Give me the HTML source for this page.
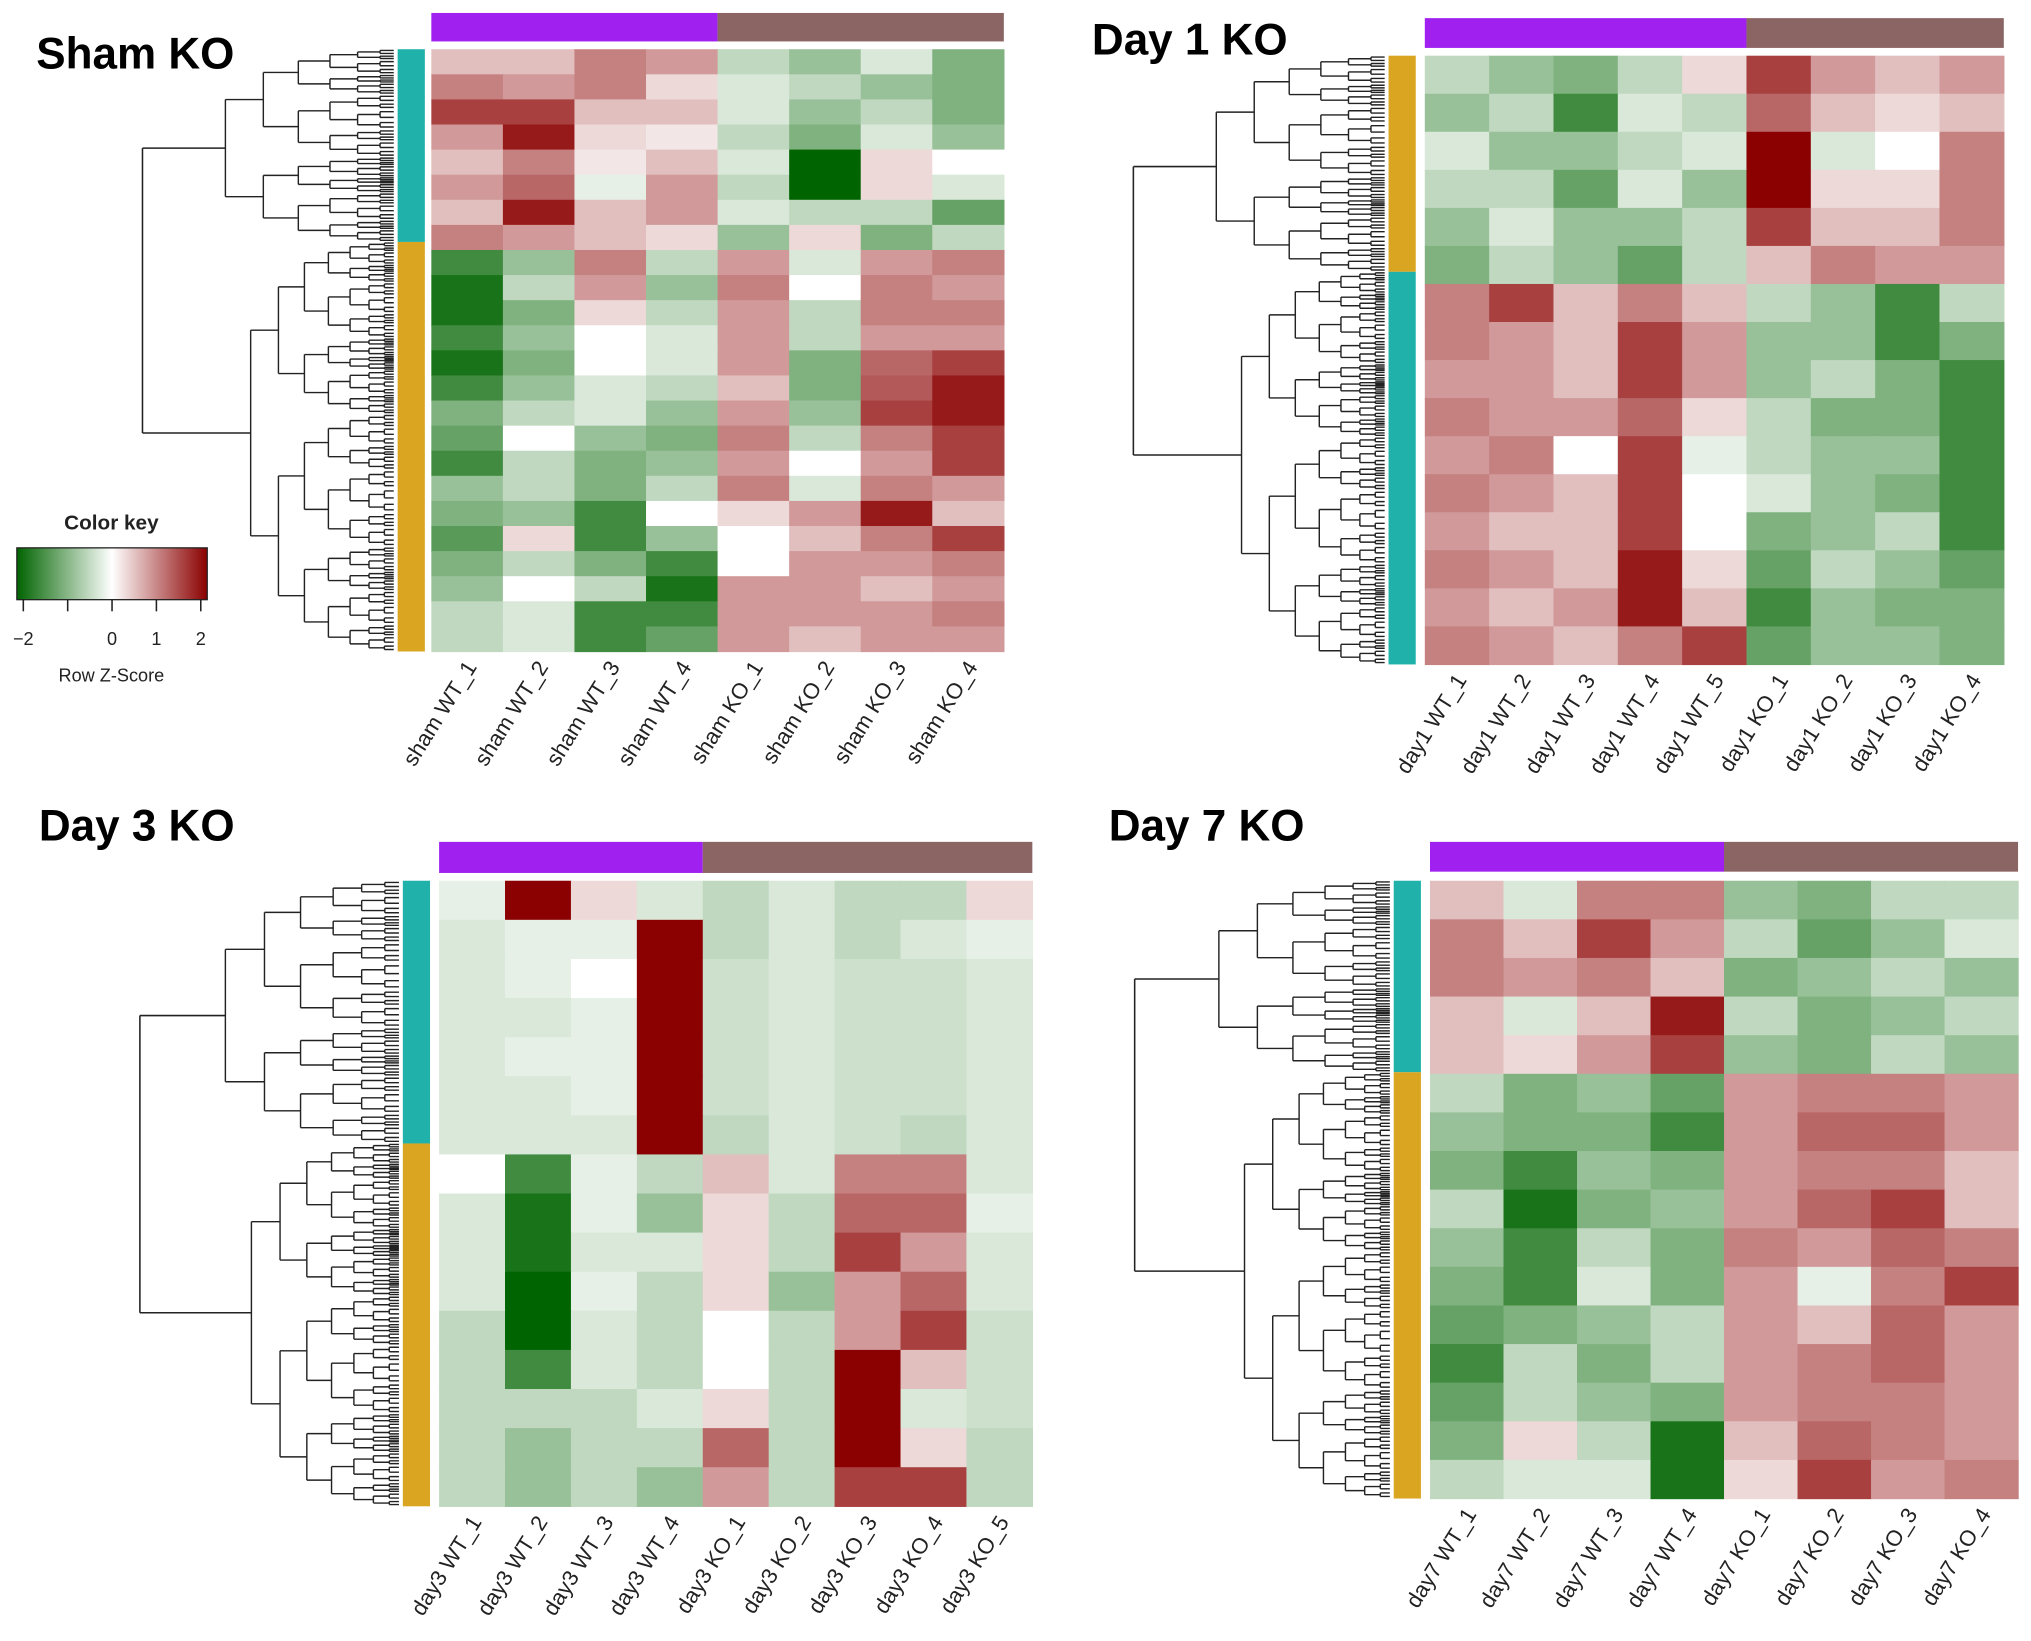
<!DOCTYPE html>
<html><head><meta charset="utf-8"><style>
html,body{margin:0;padding:0;background:#fff;}
svg{display:block;font-family:"Liberation Sans",Arial,sans-serif;}
</style></head><body>
<svg id="fig" width="2031" height="1641" viewBox="0 0 1568 1267" preserveAspectRatio="none" xmlns="http://www.w3.org/2000/svg">
<defs><linearGradient id="kg" x1="0" x2="1" y1="0" y2="0">
<stop offset="0" stop-color="#006400"/><stop offset="0.5" stop-color="#ffffff"/><stop offset="1" stop-color="#8b0000"/></linearGradient></defs>
</svg>
<script>
const shamCols=["sham WT_1","sham WT_2","sham WT_3","sham WT_4","sham KO_1","sham KO_2","sham KO_3","sham KO_4"];
const shamVals=[
[0.5,0.5,1,0.8,-0.5,-0.8,-0.3,-1],[1,0.8,1,0.3,-0.3,-0.5,-0.8,-1],[1.5,1.5,0.5,0.5,-0.3,-0.8,-0.5,-1],
[0.8,1.8,0.3,0.2,-0.5,-1,-0.3,-0.8],[0.5,1,0.2,0.5,-0.3,-2,0.3,0],[0.8,1.2,-0.2,0.8,-0.5,-2,0.3,-0.3],
[0.5,1.8,0.5,0.8,-0.3,-0.5,-0.5,-1.2],[1,0.8,0.5,0.3,-0.8,0.3,-1,-0.5],[-1.5,-0.8,1,-0.5,0.8,-0.3,0.8,1],
[-1.8,-0.5,0.8,-0.8,1,0,1,0.8],[-1.8,-1,0.3,-0.5,0.8,-0.5,1,1],[-1.5,-0.8,0,-0.3,0.8,-0.5,0.8,0.8],
[-1.8,-1,0,-0.3,0.8,-1,1.2,1.5],[-1.5,-0.8,-0.3,-0.5,0.5,-1,1.3,1.8],[-1,-0.5,-0.3,-0.8,0.8,-0.8,1.5,1.8],
[-1.2,0,-0.8,-1,1,-0.5,1,1.5],[-1.5,-0.5,-1,-0.8,0.8,0,0.8,1.5],[-0.8,-0.5,-1,-0.5,1,-0.3,1,0.8],
[-1,-0.8,-1.5,0,0.3,0.8,1.8,0.5],[-1.3,0.3,-1.5,-0.8,0,0.5,1,1.5],[-1,-0.5,-1,-1.5,0,0.8,0.8,1],
[-0.8,0,-0.5,-1.8,0.8,0.8,0.5,0.8],[-0.5,-0.3,-1.5,-1.5,0.8,0.8,0.8,1],[-0.5,-0.3,-1.5,-1.2,0.8,0.5,0.8,0.8]];
const day1Cols=["day1 WT_1","day1 WT_2","day1 WT_3","day1 WT_4","day1 WT_5","day1 KO_1","day1 KO_2","day1 KO_3","day1 KO_4"];
const day1Vals=[
[-0.5,-0.8,-1,-0.5,0.3,1.5,0.8,0.5,0.8],[-0.8,-0.5,-1.5,-0.3,-0.5,1.2,0.5,0.3,0.5],[-0.3,-0.8,-0.8,-0.5,-0.3,2,-0.3,0,1],
[-0.5,-0.5,-1.2,-0.3,-0.8,2,0.3,0.3,1],[-0.8,-0.3,-0.8,-0.8,-0.5,1.5,0.5,0.5,1],[-1,-0.5,-0.8,-1.2,-0.5,0.5,1,0.8,0.8],
[1,1.5,0.5,1,0.5,-0.5,-0.8,-1.5,-0.5],[1,0.8,0.5,1.5,0.8,-0.8,-0.8,-1.5,-1],[0.8,0.8,0.5,1.5,0.8,-0.8,-0.5,-1,-1.5],
[1,0.8,0.8,1.2,0.3,-0.5,-1,-1,-1.5],[0.8,1,0,1.5,-0.2,-0.5,-0.8,-0.8,-1.5],[1,0.8,0.5,1.5,0,-0.3,-0.8,-1,-1.5],
[0.8,0.5,0.5,1.5,0,-1,-0.8,-0.5,-1.5],[1,0.8,0.5,1.8,0.3,-1.2,-0.5,-0.8,-1.2],[0.8,0.5,0.8,1.8,0.5,-1.5,-0.8,-1,-1],
[1,0.8,0.5,1,1.5,-1.2,-0.8,-0.8,-1]];
const day3Cols=["day3 WT_1","day3 WT_2","day3 WT_3","day3 WT_4","day3 KO_1","day3 KO_2","day3 KO_3","day3 KO_4","day3 KO_5"];
const day3Vals=[
[-0.2,2,0.3,-0.3,-0.5,-0.3,-0.5,-0.5,0.3],[-0.3,-0.2,-0.2,2,-0.5,-0.3,-0.5,-0.3,-0.2],[-0.3,-0.2,0,2,-0.4,-0.3,-0.4,-0.4,-0.3],
[-0.3,-0.3,-0.2,2,-0.4,-0.3,-0.4,-0.4,-0.3],[-0.3,-0.2,-0.2,2,-0.4,-0.3,-0.4,-0.4,-0.3],[-0.3,-0.3,-0.2,2,-0.4,-0.3,-0.4,-0.4,-0.3],
[-0.3,-0.3,-0.3,2,-0.5,-0.3,-0.4,-0.5,-0.3],[0,-1.5,-0.2,-0.5,0.5,-0.3,1,1,-0.3],[-0.3,-1.8,-0.2,-0.8,0.3,-0.5,1.2,1.2,-0.2],
[-0.3,-1.8,-0.3,-0.3,0.3,-0.5,1.5,0.8,-0.3],[-0.3,-2,-0.2,-0.5,0.3,-0.8,0.8,1.2,-0.3],[-0.5,-2,-0.3,-0.5,0,-0.5,0.8,1.5,-0.4],
[-0.5,-1.5,-0.3,-0.5,0,-0.5,2,0.5,-0.4],[-0.5,-0.5,-0.5,-0.3,0.3,-0.5,2,-0.3,-0.4],[-0.5,-0.8,-0.5,-0.5,1.2,-0.5,2,0.3,-0.5],
[-0.5,-0.8,-0.5,-0.8,0.8,-0.5,1.5,1.5,-0.5]];
const day7Cols=["day7 WT_1","day7 WT_2","day7 WT_3","day7 WT_4","day7 KO_1","day7 KO_2","day7 KO_3","day7 KO_4"];
const day7Vals=[
[0.5,-0.3,1,1,-0.8,-1,-0.5,-0.5],[1,0.5,1.5,0.8,-0.5,-1.2,-0.8,-0.3],[1,0.8,1,0.5,-1,-0.8,-0.5,-0.8],
[0.5,-0.3,0.5,1.8,-0.5,-1,-0.8,-0.5],[0.5,0.3,0.8,1.5,-0.8,-1,-0.5,-0.8],[-0.5,-1,-0.8,-1.2,0.8,1,1,0.8],
[-0.8,-1,-1,-1.5,0.8,1.2,1.2,0.8],[-1,-1.5,-0.8,-1,0.8,1,1,0.5],[-0.5,-1.8,-1,-0.8,0.8,1.2,1.5,0.5],
[-0.8,-1.5,-0.5,-1,1,0.8,1.2,1],[-1,-1.5,-0.3,-1,0.8,-0.2,1,1.5],[-1.2,-1,-0.8,-0.5,0.8,0.5,1.2,0.8],
[-1.5,-0.5,-1,-0.5,0.8,1,1.2,0.8],[-1.2,-0.5,-0.8,-1,0.8,1,1,0.8],[-1,0.3,-0.5,-1.8,0.5,1.2,1,0.8],
[-0.5,-0.3,-0.3,-1.8,0.3,1.5,0.8,1]];
const keyTicks=[-2,0,1,2];

const NS="http://www.w3.org/2000/svg";
const svg=document.getElementById('fig');
function mk(tag,attrs,parent){const e=document.createElementNS(NS,tag);for(const k in attrs)e.setAttribute(k,attrs[k]);(parent||svg).appendChild(e);return e;}
function color(v){v=Math.max(-2,Math.min(2,v));let t,a,b;
 if(v<0){t=(v+2)/2;a=[0,100,0];b=[255,255,255];}else{t=v/2;a=[255,255,255];b=[139,0,0];}
 return `rgb(${Math.round(a[0]+(b[0]-a[0])*t)},${Math.round(a[1]+(b[1]-a[1])*t)},${Math.round(a[2]+(b[2]-a[2])*t)})`;}

// draws a binary tree; returns root y
function dendro(g,x0,x1,y0,y1,maxD){
 let d='';
 function xAt(k){return x1-(x1-x0)*Math.pow(k/maxD,1.4);}
 function rec(ya,yb,k){
  if(k===0) return {y:(ya+yb)/2,x:x1};
  const split=ya+(yb-ya)*(k%2?0.42:0.56);
  const nx=xAt(k);
  const a=rec(ya,split,k-1),b=rec(split,yb,k-1);
  d+=`M${nx} ${a.y}H${a.x}M${nx} ${b.y}H${b.x}M${nx} ${a.y}V${b.y}`;
  return {y:(a.y+b.y)/2,x:nx};
 }
 const r=rec(y0,y1,maxD);
 mk('path',{d:d,stroke:'#222','stroke-width':1.1,fill:'none'},g);
 return r.y;
}

function panel(name,title,tx,ty,cols,vals,hx0,hx1,hy0,hy1,bar,nWT,sideX,split,topColor,botColor,dx0){
 const g=mk('g',{});
 
 
 const t=mk('text',{x:tx,y:ty,'font-size':34,'font-weight':'bold',fill:'#000'},g);t.textContent=title;
 
 const nc=cols.length,nr=vals.length,cw=(hx1-hx0)/nc,rh=(hy1-hy0)/nr;
 const bp=mk('rect',{x:hx0,y:bar[0],width:cw*nWT,height:bar[1]-bar[0],fill:'#a020f0'},g);
 
 const bb=mk('rect',{x:hx0+cw*nWT,y:bar[0],width:cw*(nc-nWT),height:bar[1]-bar[0],fill:'#8b6464'},g);
 
 const sy=hy0+(hy1-hy0)*split;
 const s1=mk('rect',{x:sideX,y:hy0,width:21,height:sy-hy0,fill:topColor},g);
 
 const s2=mk('rect',{x:sideX,y:sy,width:21,height:hy1-sy,fill:botColor},g);
 
 for(let r=0;r<nr;r++)for(let c=0;c<nc;c++){
  const cell=mk('rect',{x:hx0+c*cw,y:hy0+r*rh,width:cw+0.5,height:rh+0.5,fill:color(vals[r][c])},g);
  
  
 }
 for(let c=0;c<nc;c++){
  const x=hx0+(c+0.5)*cw+8,y=hy1+12;
  const l=mk('text',{x:x,y:y,'font-size':17,fill:'#222','text-anchor':'end',transform:`rotate(-58 ${x} ${y})`},g);
  l.textContent=cols[c];
  
  
 }
 const dg=mk('g',{},g);
 
 const x1=sideX-3;
 const rx=dx0, cx=dx0+(x1-dx0)*0.33;
 const m1=dendro(dg,cx,x1,hy0,sy,6);
 const m2=dendro(dg,cx+(x1-cx)*0.15,x1,sy,hy1,7);
 mk('path',{d:`M${rx} ${m1}V${m2}M${rx} ${m1}H${cx}M${rx} ${m2}H${cx+(x1-cx)*0.15}`,stroke:'#222','stroke-width':1.2,fill:'none'},dg);
}
panel('sham','Sham KO',28,53,shamCols,shamVals,333,775,38,503,[10,32],4,307,0.32,'#20b2aa','#daa520',110);
panel('day1','Day 1 KO',843,42,day1Cols,day1Vals,1100,1547,43,513,[14,37],5,1072,0.355,'#daa520','#20b2aa',875);
panel('day3','Day 3 KO',30,649,day3Cols,day3Vals,339,797,680,1163,[650,674],4,311,0.42,'#20b2aa','#daa520',108);
panel('day7','Day 7 KO',856,649,day7Cols,day7Vals,1104,1558,680,1157,[650,673],4,1076,0.31,'#20b2aa','#daa520',876);

const kg=mk('g',{});


const kt=mk('text',{x:86,y:409,'font-size':16,'font-weight':'bold','text-anchor':'middle',fill:'#222'},kg);kt.textContent='Color key';
const kbx0=13,kbx1=160;
mk('rect',{x:kbx0,y:423,width:kbx1-kbx0,height:40,fill:'url(#kg)',stroke:'#222','stroke-width':1},kg);
function kx(v){return kbx0+5+(v+2)/4*(kbx1-kbx0-10);}
[-2,-1,0,1,2].forEach(v=>mk('line',{x1:kx(v),x2:kx(v),y1:463,y2:472,stroke:'#222','stroke-width':1.2},kg));
keyTicks.forEach(v=>{const t=mk('text',{x:kx(v),y:498,'font-size':14,'text-anchor':'middle',fill:'#222'},kg);t.textContent=String(v).replace('-','−');
 });
const kz=mk('text',{x:86,y:526,'font-size':14,'text-anchor':'middle',fill:'#222'},kg);kz.textContent='Row Z-Score';

</script>
</body></html>
